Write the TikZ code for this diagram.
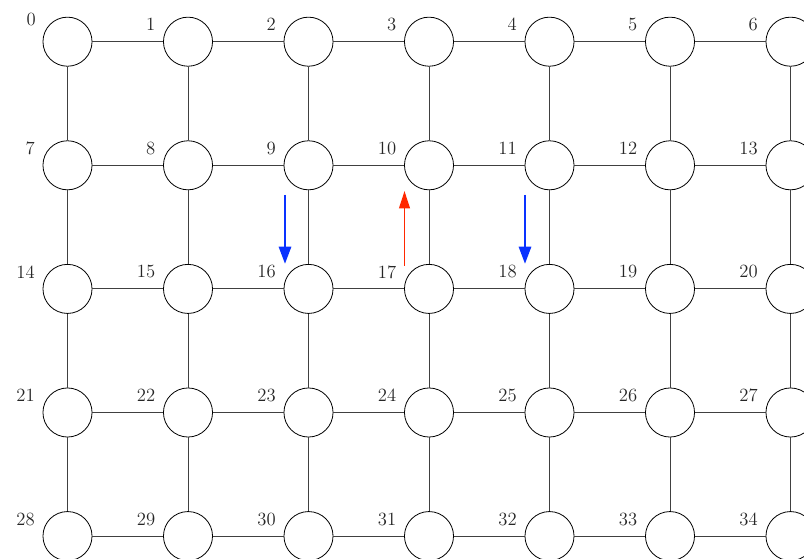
\documentclass[tikz,border=0pt]{standalone}
\usetikzlibrary{arrows.meta}
\definecolor{arrowblue}{RGB}{10,50,255}
\definecolor{arrowred}{RGB}{255,40,0}
\begin{document}
\begin{tikzpicture}[x=0.75pt,y=-0.75pt,
  vertex/.style={circle,draw=black,fill=white,line width=0.6pt,minimum size=36.8pt,inner sep=0pt},
  edge/.style={draw=black!75,line width=0.6pt},
  lbl/.style={anchor=east,inner sep=0pt,font=\fontsize{14}{16}\selectfont,text=black!85},
  bluearrow/.style={color=arrowblue,line width=2.2pt,-{Triangle[length=13pt,width=9pt]}},
  redarrow/.style={color=arrowred,line width=1.4pt,-{Triangle[length=13pt,width=8pt]}}]
\useasboundingbox (0,0) rectangle (804,559);
% nodes
\foreach \r in {0,...,4}{
  \foreach \c in {0,...,6}{
    \pgfmathtruncatemacro{\k}{7*\r+\c}
    \node[vertex] (n\k) at ({67.5+120.5*\c},{41.7+123.6*\r}) {};
  }
}
% edges
\foreach \r in {0,...,4}{
  \foreach \c in {0,...,5}{
    \pgfmathtruncatemacro{\a}{7*\r+\c}
    \pgfmathtruncatemacro{\b}{7*\r+\c+1}
    \draw[edge] (n\a) -- (n\b);
  }
}
\foreach \r in {0,...,3}{
  \foreach \c in {0,...,6}{
    \pgfmathtruncatemacro{\a}{7*\r+\c}
    \pgfmathtruncatemacro{\b}{7*\r+\c+7}
    \draw[edge] (n\a) -- (n\b);
  }
}
% labels
\foreach \r in {0,...,4}{
  \foreach \c in {0,...,6}{
    \pgfmathtruncatemacro{\k}{7*\r+\c}
    \ifnum\k=0
      \node[lbl] (l\k) at ([shift={(-31.5,-22)}]n\k.center) {\k};
    \else
      \node[lbl] (l\k) at ([shift={(-32.5,-17)}]n\k.center) {\k};
    \fi
  }
}
% arrows
\coordinate (b1s) at (285,195);
\coordinate (b1e) at (285,264);
\coordinate (b2s) at (525,195);
\coordinate (b2e) at (525,264);
\coordinate (r1s) at (404.5,266);
\coordinate (r1e) at (404.5,191);
\draw[bluearrow] (b1s) -- (b1e);
\draw[bluearrow] (b2s) -- (b2e);
\draw[redarrow] (r1s) -- (r1e);
\end{tikzpicture}
\end{document}
